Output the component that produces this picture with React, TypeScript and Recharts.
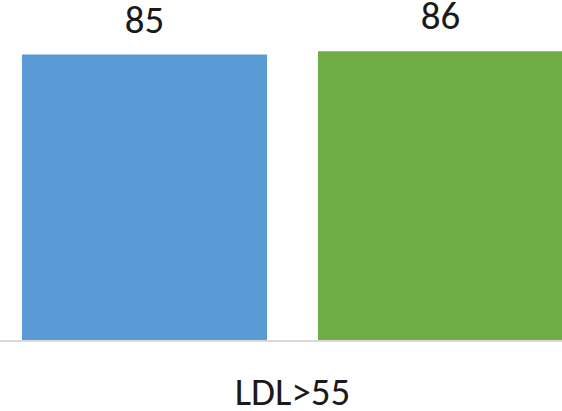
import { BarChart, Bar, XAxis, YAxis, LabelList } from "recharts";

const CATEGORIES = ["LDL>55"];
const SERIES_A = [85];
const SERIES_B = [86];

const BLUE = "#5B9BD5";
const GREEN = "#70AD47";
const AXIS_GRAY = "#d9d9d9";
const TEXT = "#1a1a1a";
const FONT = "Calibri, Carlito, 'Open Sans', sans-serif";
const FS = 39;

const data = CATEGORIES.map((name, i) => ({
  name,
  a: SERIES_A[i],
  b: SERIES_B[i],
}));

export default function App() {
  return (
    <div
      style={{
        position: "absolute",
        left: 0,
        top: 0,
        width: 562,
        height: 411,
        overflow: "hidden",
        background: "#fff",
        fontFamily: FONT,
      }}
    >
      <BarChart
        width={600}
        height={411}
        data={data}
        margin={{ top: 4, right: 15, left: 0, bottom: 0 }}
        barCategoryGap={0}
        barGap={51}
      >
        <XAxis
          dataKey="name"
          height={70}
          tickLine={false}
          tickMargin={30}
          axisLine={{ stroke: AXIS_GRAY, strokeWidth: 2 }}
          tick={{ fill: TEXT, fontSize: FS, fontFamily: FONT }}
        />
        <YAxis hide domain={[0, 100]} />
        <Bar dataKey="a" fill={BLUE} barSize={245} isAnimationActive={false}>
          <LabelList
            dataKey="a"
            position="top"
            offset={22}
            fill={TEXT}
            fontSize={FS}
            fontFamily={FONT}
          />
        </Bar>
        <Bar dataKey="b" fill={GREEN} barSize={245} isAnimationActive={false}>
          <LabelList
            dataKey="b"
            position="top"
            offset={22}
            fill={TEXT}
            fontSize={FS}
            fontFamily={FONT}
          />
        </Bar>
      </BarChart>
    </div>
  );
}
